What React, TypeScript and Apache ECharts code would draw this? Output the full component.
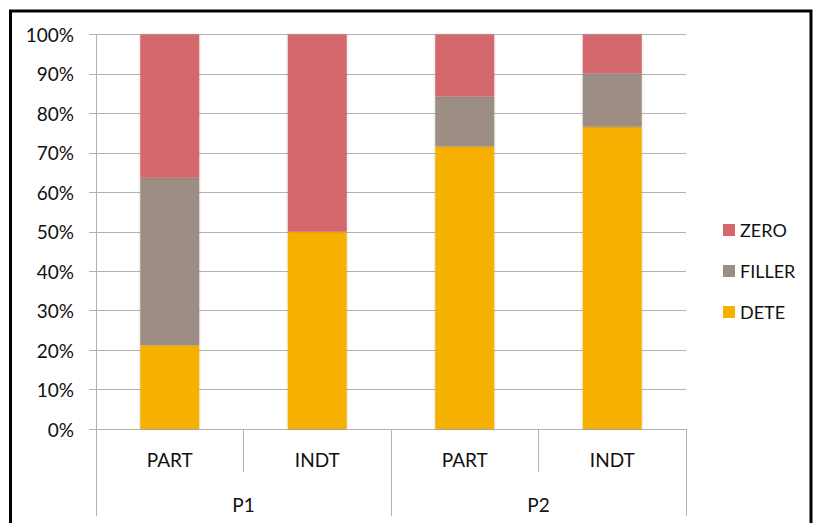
import React, { useEffect, useRef } from "react";
import * as echarts from "echarts";

const subCategories = ["PART", "INDT", "PART", "INDT"];
const groupCategories = ["P1", "P2"];
const seriesNames = ["DETE", "FILLER", "ZERO"];
const deteValues = [21.2, 50.0, 71.6, 76.6];
const fillerValues = [42.5, 0, 12.7, 13.6];
const zeroValues = [36.3, 50.0, 15.7, 9.8];
const colors = ["#f6b100", "#9c8e84", "#d4676c"];

const FONT = "Lato, 'Liberation Sans', sans-serif";

export default function App() {
  const ref = useRef<HTMLDivElement>(null);
  useEffect(() => {
    if (!ref.current) return;
    const chart = echarts.init(ref.current, undefined, { renderer: "svg" });
    const values = [deteValues, fillerValues, zeroValues];
    const gridColor = "#b3b3b3";
    chart.setOption({
      animation: false,
      backgroundColor: "#ffffff",
      textStyle: { fontFamily: FONT },
      grid: { left: 96, right: 128, top: 34.5, bottom: 94, containLabel: false },
      legend: {
        orient: "vertical",
        left: 718,
        top: 216,
        data: ["ZERO", "FILLER", "DETE"],
        itemWidth: 12,
        itemHeight: 12,
        itemGap: 23,
        icon: "rect",
        textStyle: { fontSize: 18, color: "#111", fontFamily: FONT },
      },
      xAxis: [
        {
          type: "category",
          data: subCategories,
          position: "bottom",
          axisLine: { show: true, lineStyle: { color: gridColor, width: 1 } },
          axisTick: { show: true, interval: 0, length: 43, lineStyle: { color: gridColor } },
          axisLabel: { margin: 21, fontSize: 19, color: "#111", fontFamily: FONT, interval: 0 },
          splitLine: { show: false },
        },
        {
          type: "category",
          data: groupCategories,
          position: "bottom",
          axisLine: { show: false },
          axisTick: { show: true, interval: 0, length: 87, lineStyle: { color: gridColor } },
          axisLabel: { margin: 66, fontSize: 19, color: "#111", fontFamily: FONT, interval: 0 },
          splitLine: { show: false },
        },
      ],
      yAxis: {
        type: "value",
        min: 0,
        max: 100,
        interval: 10,
        axisLine: { show: true, lineStyle: { color: gridColor } },
        axisTick: { show: true, length: 7, lineStyle: { color: gridColor } },
        axisLabel: { formatter: "{value}%", margin: 22, fontSize: 19, color: "#111", fontFamily: FONT },
        splitLine: { show: true, lineStyle: { color: gridColor, width: 1 } },
      },
      series: seriesNames.map((name, i) => ({
        name,
        type: "bar",
        stack: "total",
        barWidth: 59,
        xAxisIndex: 0,
        data: values[i],
        itemStyle: { color: colors[i], shadowBlur: 3, shadowColor: "rgba(0,0,0,0.18)" },
      })),
      graphic: [
        {
          type: "rect",
          silent: true,
          shape: { x: 10.5, y: 11, width: 800.5, height: 540 },
          style: { fill: "none", stroke: "#000", lineWidth: 3 },
          z: 100,
        },
      ],
    });
    return () => chart.dispose();
  }, []);
  return <div ref={ref} style={{ width: 814, height: 523, position: "absolute", left: 0, top: 0 }} />;
}
